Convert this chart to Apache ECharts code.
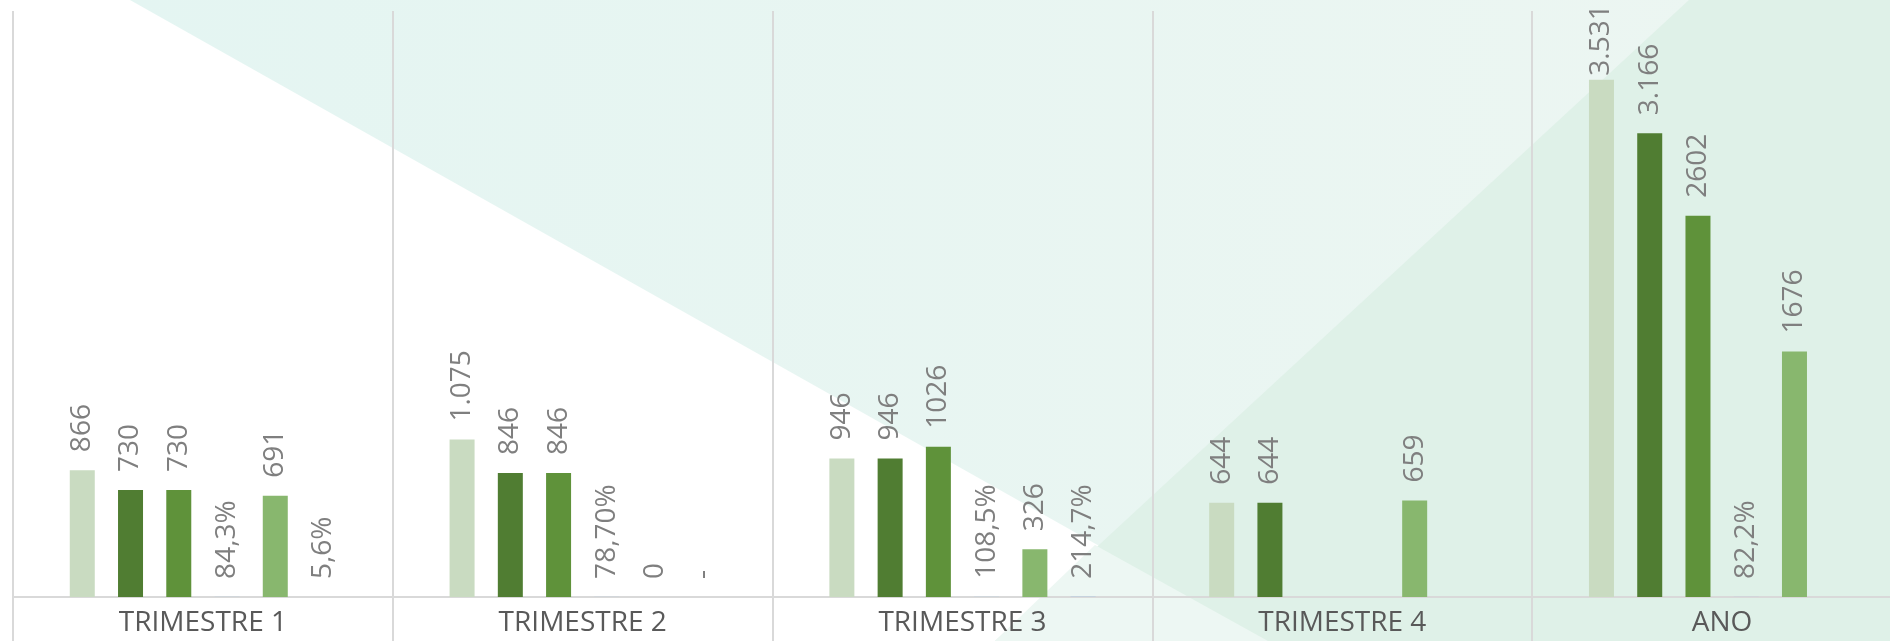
<!DOCTYPE html>
<html>
<head>
<meta charset="utf-8">
<script src="https://cdn.jsdelivr.net/npm/echarts@6/dist/echarts.min.js"></script>
<style>
html, body { margin: 0; padding: 0; background: #fff; overflow: hidden; }
/* the last category runs past the right edge of the picture */
#chart { width: 1912px; height: 641px; }
</style>
</head>
<body>
<div id="chart"></div>
<script>
const categories = ['TRIMESTRE 1', 'TRIMESTRE 2', 'TRIMESTRE 3', 'TRIMESTRE 4', 'ANO'];

const serie1 = [866, 1075, 946, 644, 3531];
const serie1Labels = ['866', '1.075', '946', '644', '3.531'];
const serie2 = [730, 846, 946, 644, 3166];
const serie2Labels = ['730', '846', '946', '644', '3.166'];
const serie3 = [730, 846, 1026, null, 2602];
const serie3Labels = ['730', '846', '1026', '', '2602'];
const pct1 = [84.3, 78.7, 108.5, null, 82.2];
const pct1Labels = ['84,3%', '78,70%', '108,5%', '', '82,2%'];
const serie5 = [691, 0, 326, 659, 1676];
const serie5Labels = ['691', '0', '326', '659', '1676'];
const pct2 = [5.6, 0, 214.7, null, null];
const pct2Labels = ['5,6%', '-', '214,7%', '', ''];

const chart = echarts.init(document.getElementById('chart'));

function barSeries(values, labels, color) {
    return {
        type: 'bar',
        barWidth: 25,
        barGap: '93%',
        itemStyle: { color: color },
        label: {
            show: true,
            position: 'top',
            rotate: 90,
            align: 'left',
            verticalAlign: 'middle',
            distance: 18,
            color: '#7F7F7F',
            fontSize: 28,
            fontFamily: 'Open Sans',
            formatter: p => labels[p.dataIndex]
        },
        data: values.map(v => {
            // the tallest label is pushed down so it stays inside the plot
            if (v !== null && v > 3400) return { value: v, label: { distance: 4 } };
            return v;
        })
    };
}

// percentages sit on the same axis as fractions, so they show as labels only
const toFraction = arr => arr.map(v => (v === null ? null : v / 100));

const option = {
    animation: false,
    backgroundColor: '#ffffff',
    // background shapes: teal band, green wedge on top, pale corner on top of that
    graphic: [
        {
            type: 'polygon', z: -100, silent: true,
            shape: { points: [[130, 0], [1912, 0], [1912, 641], [1268, 641]] },
            style: {
                fill: new echarts.graphic.LinearGradient(0, 0, 1, 0, [
                    { offset: 0, color: '#E4F5F2' },
                    { offset: 1, color: '#EDF6F2' }
                ])
            }
        },
        {
            type: 'polygon', z: -99, silent: true,
            shape: { points: [[1689, 0], [1912, 0], [1912, 641], [995, 641]] },
            style: { fill: '#DFF1E8' }
        },
        {
            type: 'polygon', z: -98, silent: true,
            shape: { points: [[1095, 545], [1268, 641], [995, 641]] },
            style: { fill: '#EDF7F3' }
        }
    ],
    grid: {
        left: 13,
        right: 0,
        top: 11,
        bottom: 44
    },
    xAxis: {
        type: 'category',
        data: categories,
        axisLine: { lineStyle: { color: '#D9D9D9', width: 2 } },
        axisTick: { show: true, length: 44, lineStyle: { color: '#D9D9D9', width: 2 } },
        splitLine: { show: true, lineStyle: { color: '#D9D9D9', width: 2 } },
        axisLabel: {
            fontSize: 28,
            color: '#595959',
            margin: 12,
            fontFamily: 'Open Sans'
        }
    },
    yAxis: {
        type: 'value',
        min: 0,
        max: 4000,
        show: false,
        splitLine: { show: false }
    },
    series: [
        barSeries(serie1, serie1Labels, '#C9DBC1'),
        barSeries(serie2, serie2Labels, '#507D32'),
        barSeries(serie3, serie3Labels, '#5F923A'),
        barSeries(toFraction(pct1), pct1Labels, '#9DC3E6'),
        barSeries(serie5, serie5Labels, '#88B76E'),
        barSeries(toFraction(pct2), pct2Labels, '#9DC3E6')
    ]
};

chart.setOption(option);
</script>
</body>
</html>
